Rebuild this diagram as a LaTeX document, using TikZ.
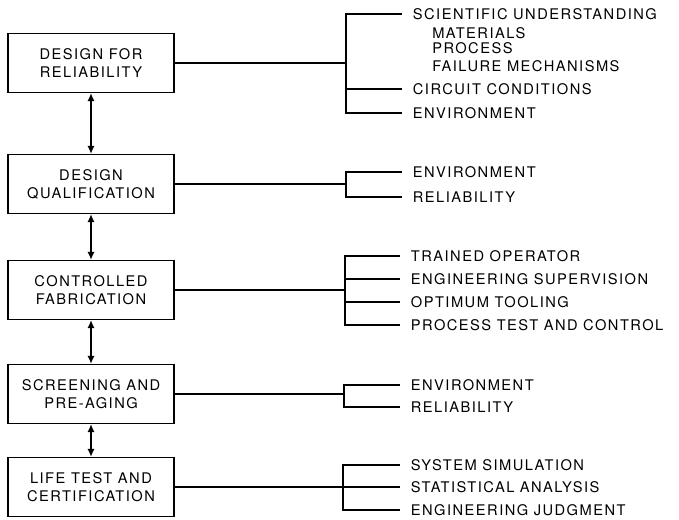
\documentclass[tikz,border=0pt]{standalone}
\usepackage{fontspec}
\setmainfont{TeX Gyre Heros}[LetterSpace=10]
\usetikzlibrary{arrows.meta}

\begin{document}
\begin{tikzpicture}[x=0.75pt, y=-0.75pt, every node/.style={font=\fontsize{11}{13.5}\selectfont}, box/.style={draw, line width=0.9pt, minimum width=124.5pt, minimum height=44.25pt, align=center, inner sep=0pt}, item/.style={anchor=west, inner xsep=8pt, inner ysep=0pt, text height=7.9pt, text depth=0pt}, sub/.style={anchor=west, inner sep=0pt, text height=7.9pt, text depth=0pt}, link/.style={line width=1.9pt}, dblarrow/.style={arrows={Latex[length=6pt,width=5.5pt]-Latex[length=6pt,width=5.5pt]}, line width=2pt}]
      \useasboundingbox (0,0) rectangle (679,519);
      % stages
      \node[box] (dfr) at (91,63) {DESIGN FOR\\RELIABILITY};
      \node[box] (dq) at (91,184) {DESIGN\\QUALIFICATION};
      \node[box] (cf) at (91,290) {CONTROLLED\\FABRICATION};
      \node[box] (spa) at (91,394) {SCREENING AND\\PRE-AGING};
      \node[box] (ltc) at (91,487) {LIFE TEST AND\\CERTIFICATION};
      \draw[dblarrow] (dfr) -- (dq);
      \draw[dblarrow] (dq) -- (cf);
      \draw[dblarrow] (cf) -- (spa);
      \draw[dblarrow] (spa) -- (ltc);
      % design for reliability
      \coordinate (j1) at (346,63);
      \node[item] (su) at (402,14) {SCIENTIFIC UNDERSTANDING};
      \node[sub] (mat) at (432,33) {MATERIALS};
      \node[sub] (proc) at (432,48) {PROCESS};
      \node[sub] (fm) at (432,66) {FAILURE MECHANISMS};
      \node[item] (cc) at (402,89) {CIRCUIT CONDITIONS};
      \node[item] (env1) at (402,113) {ENVIRONMENT};
      \draw[link] (dfr) -- (j1);
      \foreach \n in {su,cc,env1} \draw[link] (j1) |- (\n.west);
      % design qualification
      \coordinate (j2) at (346,184);
      \node[item] (env2) at (402,172) {ENVIRONMENT};
      \node[item] (rel2) at (402,197) {RELIABILITY};
      \draw[link] (dq) -- (j2);
      \foreach \n in {env2,rel2} \draw[link] (j2) |- (\n.west);
      % controlled fabrication
      \coordinate (j3) at (345,290);
      \node[item] (to) at (400,256) {TRAINED OPERATOR};
      \node[item] (es) at (400,279) {ENGINEERING SUPERVISION};
      \node[item] (ot) at (400,302) {OPTIMUM TOOLING};
      \node[item] (ptc) at (400,325) {PROCESS TEST AND CONTROL};
      \draw[link] (cf) -- (j3);
      \foreach \n in {to,es,ot,ptc} \draw[link] (j3) |- (\n.west);
      % screening and pre-aging
      \coordinate (j4) at (344,394);
      \node[item] (env4) at (400,385) {ENVIRONMENT};
      \node[item] (rel4) at (400,407) {RELIABILITY};
      \draw[link] (spa) -- (j4);
      \foreach \n in {env4,rel4} \draw[link] (j4) |- (\n.west);
      % life test and certification
      \coordinate (j5) at (343,487);
      \node[item] (ss) at (400,465) {SYSTEM SIMULATION};
      \node[item] (sa) at (400,487) {STATISTICAL ANALYSIS};
      \node[item] (ej) at (400,510) {ENGINEERING JUDGMENT};
      \draw[link] (ltc) -- (j5);
      \foreach \n in {ss,sa,ej} \draw[link] (j5) |- (\n.west);
    \end{tikzpicture}
\end{document}
